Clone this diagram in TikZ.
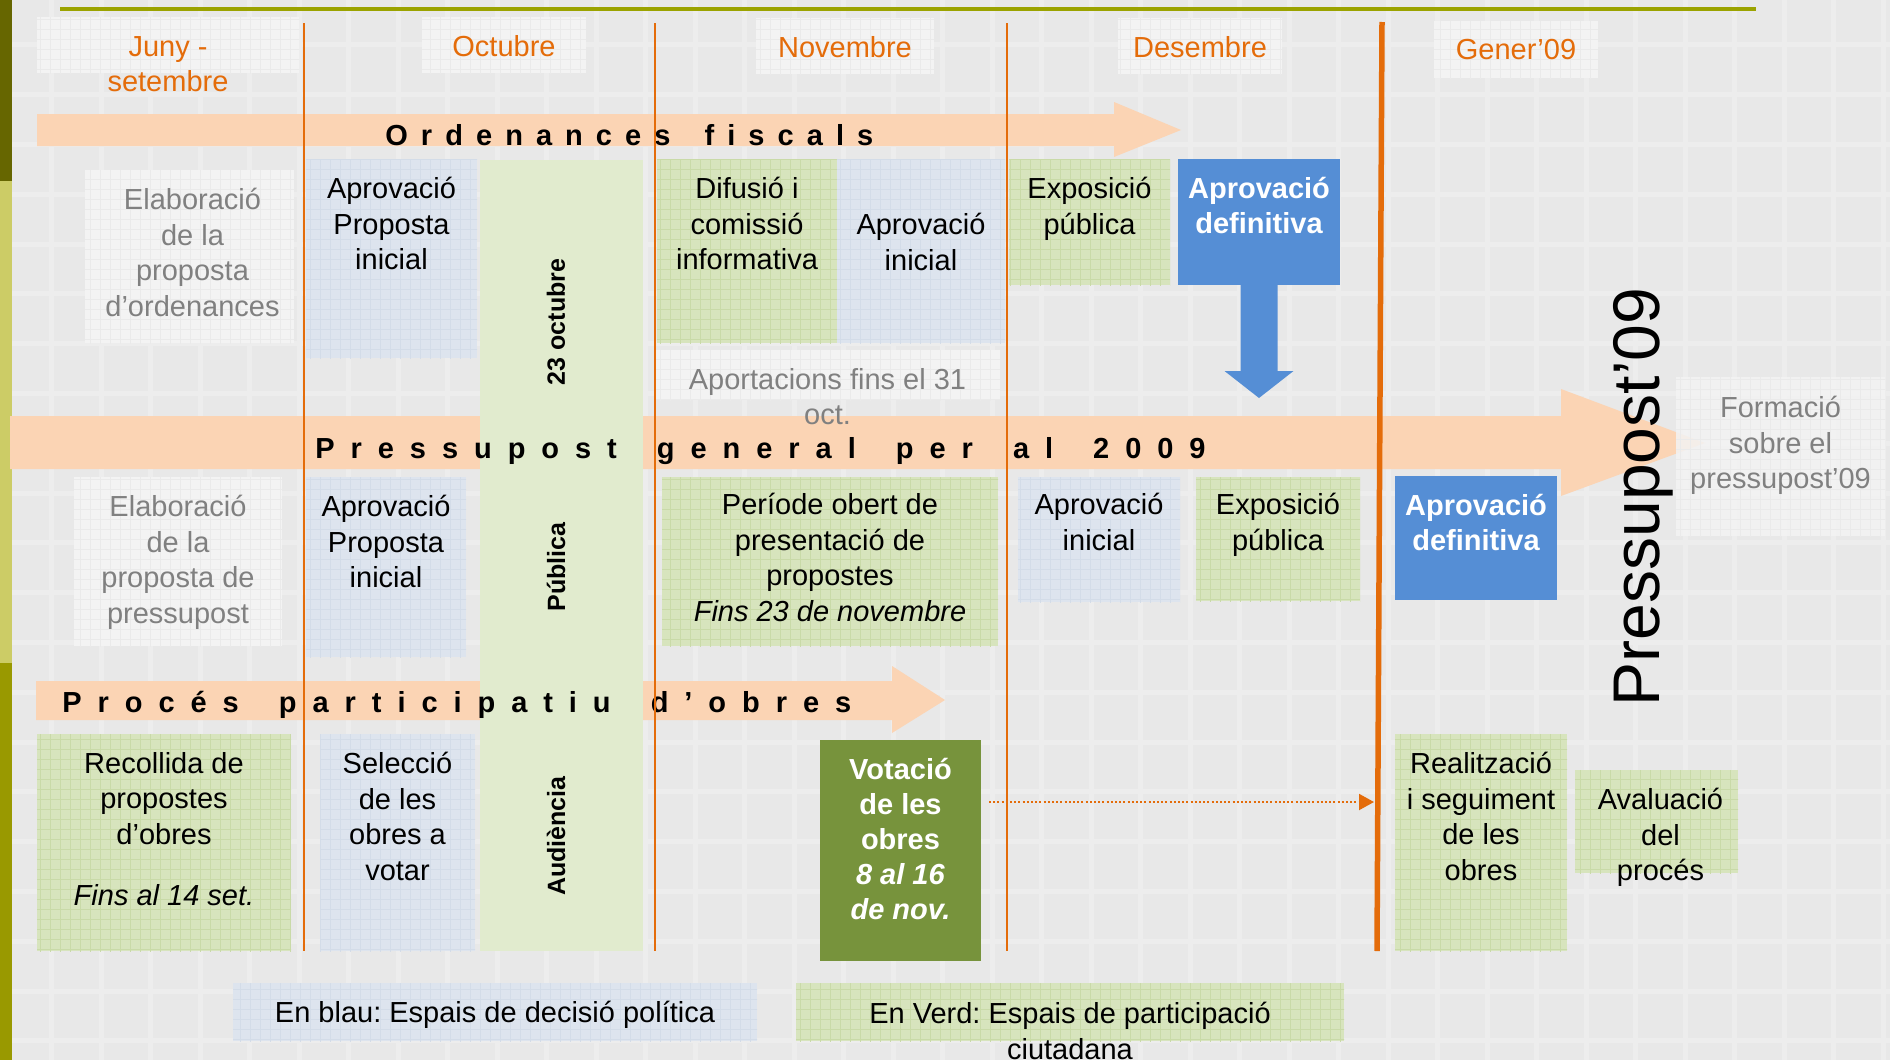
\documentclass[tikz,border=0pt]{standalone}
\usepackage{fontspec}
\setmainfont{Liberation Sans}
\newfontfamily\ordfont{Liberation Sans}[LetterSpace=45,WordSpace=1.62]
\newfontfamily\presfont{Liberation Sans}[LetterSpace=55,WordSpace=1.67]
\usetikzlibrary{arrows.meta,fit,patterns.meta}
\frenchspacing

\definecolor{bg}{HTML}{E8E8E8}
\definecolor{bgln}{HTML}{EDEDED}
\definecolor{olv1}{HTML}{666600}
\definecolor{olv2}{HTML}{CCCC66}
\definecolor{olv3}{HTML}{999900}
\definecolor{topln}{HTML}{9BA300}
\definecolor{band}{HTML}{FBD4B4}
\definecolor{grn}{HTML}{D7E4BD}
\definecolor{grnln}{HTML}{C9DAA8}
\definecolor{colgrn}{HTML}{E1EBCE}
\definecolor{blu}{HTML}{DDE4EE}
\definecolor{bluln}{HTML}{D3DCE8}
\definecolor{wht}{HTML}{F3F3F3}
\definecolor{whtln}{HTML}{EAEAEA}
\definecolor{decblue}{HTML}{558ED5}
\definecolor{vote}{HTML}{77933C}
\definecolor{mon}{HTML}{E46C0A}
\definecolor{txtgray}{HTML}{808080}

\begin{document}
\begin{tikzpicture}[x=0.5pt, y=-0.5pt,
	every node/.style={font=\fontsize{14.5}{17.75}\selectfont, align=center, inner sep=0pt},
	cell/.style={inner sep=0pt, outer sep=0pt, draw=none},
	whitecell/.style={cell, fill=wht, postaction={pattern={Hatch[angle=0,distance=5pt,line width=0.5pt]}, pattern color=whtln}},
	greencell/.style={cell, fill=grn, postaction={pattern={Hatch[angle=0,distance=5pt,line width=0.5pt]}, pattern color=grnln}},
	bluecell/.style={cell, fill=blu, postaction={pattern={Hatch[angle=0,distance=5pt,line width=0.5pt]}, pattern color=bluln}},
	decicell/.style={cell, fill=decblue},
	votecell/.style={cell, fill=vote},
	colcell/.style={cell, fill=colgrn},
	lbl/.style={anchor=north, execute at begin node={\rule{0pt}{14pt}}},
	glbl/.style={lbl, text=txtgray},
	mlbl/.style={lbl, text=mon},
	wlbl/.style={lbl, text=white, font=\fontsize{14.5}{17.5}\selectfont\bfseries},
	vlbl/.style={rotate=90, font=\fontsize{12.5}{15}\selectfont\bfseries},
	ttl/.style={anchor=base west, font={#1\fontsize{14.5}{17.75}\selectfont\bfseries}},
	bggrid/.style={bgln, line width=2.5pt},
	mline/.style={mon, line width=1pt},
	dotarr/.style={mon, line width=1pt, dash pattern=on 1pt off 1.1pt, -{Triangle[length=7.5pt,width=8pt]}}]

	\useasboundingbox (0,0) rectangle (1890,1060);
	\fill[bg] (0,0) rectangle (1890,1060);
	\foreach \i in {0,...,38}
		\draw[bggrid] (2+49.5*\i,0) -- (2+49.5*\i,1060);
	\foreach \j in {0,...,21}
		\draw[bggrid] (0,-5+49.8*\j) -- (1890,-5+49.8*\j);
	\fill[olv1] (0,0) rectangle (12,181);
	\fill[olv2] (0,181) rectangle (12,663);
	\fill[olv3] (0,663) rectangle (12,1060);
	\draw[topln, line width=1.65pt] (60,9) -- (1756,9);

	\fill[band] (37,114) -- (1114,114) -- (1114,102) -- (1181,130) -- (1114,157) -- (1114,146) -- (37,146) -- cycle;
	\fill[band] (10,416) -- (1561,416) -- (1561,389) -- (1705,443) -- (1561,496) -- (1561,469) -- (10,469) -- cycle;
	\fill[band] (36,681) -- (892,681) -- (892,666) -- (945,700) -- (892,733) -- (892,720) -- (36,720) -- cycle;

	\node[whitecell, fit={(37,17) (299,73)}] (mjuny) {};
	\node[whitecell, fit={(422,17) (586,73)}] (moct) {};
	\node[whitecell, fit={(756,18) (934,74)}] (mnov) {};
	\node[whitecell, fit={(1118,18) (1282,74)}] (mdes) {};
	\node[whitecell, fit={(1434,21) (1598,78)}] (mgen) {};

	\node[colcell, fit={(480,160) (643,951)}] (col) {};
	\node[whitecell, fit={(85,170) (294,343)}] (elab1) {};
	\node[bluecell, fit={(306,159) (477,358)}] (apr1) {};
	\node[greencell, fit={(657,159) (837,343)}] (dif1) {};
	\node[bluecell, fit={(837,159) (1005,343)}] (apri1) {};
	\node[greencell, fit={(1009,159) (1170,285)}] (expo1) {};
	\node[decicell, fit={(1178,159) (1340,285)}] (adef1) {};
	\node[whitecell, fit={(655,350) (1000,400)}] (aport) {};

	\node[whitecell, fit={(74,477) (282,646)}] (elab2) {};
	\node[bluecell, fit={(306,477) (466,657)}] (apr2) {};
	\node[greencell, fit={(662,477) (998,646)}] (peri) {};
	\node[bluecell, fit={(1018,477) (1180,602)}] (apri2) {};
	\node[greencell, fit={(1196,477) (1360,601)}] (expo2) {};
	\node[decicell, fit={(1395,476) (1557,600)}] (adef2) {};
	\node[whitecell, fill opacity=0.85, fit={(1676,377) (1885,536)}] (form) {};

	\node[greencell, fit={(37,734) (291,951)}] (recol) {};
	\node[bluecell, fit={(320,734) (475,951)}] (selec) {};
	\node[votecell, fit={(820,740) (981,961)}] (votac) {};
	\node[greencell, fit={(1395,734) (1567,951)}] (realit) {};
	\node[greencell, fit={(1575,770) (1738,873)}] (aval) {};

	\node[bluecell, fit={(233,983) (757,1041)}] (lblau) {};
	\node[greencell, fit={(796,983) (1344,1041)}] (lverd) {};

	\fill[decblue] ([xshift=-9.25pt]adef1.south) -- ++(0,86) -- ++(-16,0) -- ++(34.5,27) -- ++(34.5,-27) -- ++(-16,0) -- ++(0,-86) -- cycle;

	\node[ttl=\ordfont] (ordt) at (385,145) {Ordenances fiscals};
	\node[ttl=\presfont] (prest) at (315,458) {Pressupost general per al 2009};
	\node[ttl=\presfont] (proct) at (62,712) {Procés participatiu d’obres};

	\node[mlbl] (mjunyt) at ([yshift=-9.5pt]mjuny.north) {Juny -\\setembre};
	\node[mlbl] (moctt) at ([yshift=-5.5pt]moct.north) {Octubre};
	\node[mlbl] (mnovt) at ([yshift=-5.5pt]mnov.north) {Novembre};
	\node[mlbl] (mdest) at ([yshift=-5.5pt]mdes.north) {Desembre};
	\node[mlbl] (mgent) at ([yshift=-5pt]mgen.north) {Gener’09};

	\node[glbl] (elab1t) at ([shift={(1.5pt,-9pt)}]elab1.north) {Elaboració\\de la\\proposta\\d’ordenances};
	\node[lbl] (apr1t) at ([yshift=-9pt]apr1.north) {Aprovació\\Proposta\\inicial};
	\node[lbl] (dif1t) at ([yshift=-9pt]dif1.north) {Difusió i\\comissió\\informativa};
	\node[lbl] (apri1t) at ([yshift=-27pt]apri1.north) {Aprovació\\inicial};
	\node[lbl] (expo1t) at ([yshift=-9pt]expo1.north) {Exposició\\pública};
	\node[wlbl] (adef1t) at ([yshift=-9pt]adef1.north) {Aprovació\\definitiva};
	\node[glbl] (aportt) at ([yshift=-9pt]aport.north) {Aportacions fins el 31\\oct.};

	\node[glbl] (elab2t) at ([yshift=-9pt]elab2.north) {Elaboració\\de la\\proposta de\\pressupost};
	\node[lbl] (apr2t) at ([yshift=-9pt]apr2.north) {Aprovació\\Proposta\\inicial};
	\node[lbl] (perit) at ([yshift=-8pt]peri.north) {Període obert de\\presentació de\\propostes\\\textit{Fins 23 de novembre}};
	\node[lbl] (apri2t) at ([yshift=-8pt]apri2.north) {Aprovació\\inicial};
	\node[lbl] (expo2t) at ([yshift=-8pt]expo2.north) {Exposició\\pública};
	\node[wlbl] (adef2t) at ([yshift=-9pt]adef2.north) {Aprovació\\definitiva};
	\node[glbl] (formt) at ([yshift=-9.5pt]form.north) {Formació\\sobre el\\pressupost’09};

	\node[lbl] (recolt) at ([yshift=-9pt]recol.north) {Recollida de\\propostes\\d’obres\\[13pt]\textit{Fins al 14 set.}};
	\node[lbl] (select) at ([yshift=-9pt]selec.north) {Selecció\\de les\\obres a\\votar};
	\node[wlbl] (votact) at ([yshift=-9pt]votac.north) {Votació\\de les\\obres\\\textit{8 al 16}\\\textit{de nov.}};
	\node[lbl] (realitt) at ([yshift=-9pt]realit.north) {Realització\\i seguiment\\de les\\obres};
	\node[lbl] (avalt) at ([shift={(2pt,-9pt)}]aval.north) {Avaluació\\del\\procés};

	\node[lbl] (lblaut) at ([yshift=-5.5pt]lblau.north) {En blau: Espais de decisió política};
	\node[lbl] (lverdt) at ([yshift=-9.5pt]lverd.north) {En Verd: Espais de participació\\ciutadana};

	\node[vlbl] (oct23) at (556,322) {23 octubre};
	\node[vlbl] (publ) at (556,567) {Pública};
	\node[vlbl] (audi) at (556,836) {Audiència};

	\foreach \x in {304,655,1007}
		\draw[mline] (\x,23) -- (\x,951);
	\draw[mon, line width=2.75pt] (1382,22) -- (1377,951);

	\coordinate (genarr) at (1374,802);
	\draw[dotarr] ([shift={(8,-48.5)}]votac.east) -- (genarr);

	\node[rotate=90, anchor=base, font=\fontsize{33}{40}\selectfont] (p09) at (1659,497) {Pressupost’09};

\end{tikzpicture}
\end{document}
